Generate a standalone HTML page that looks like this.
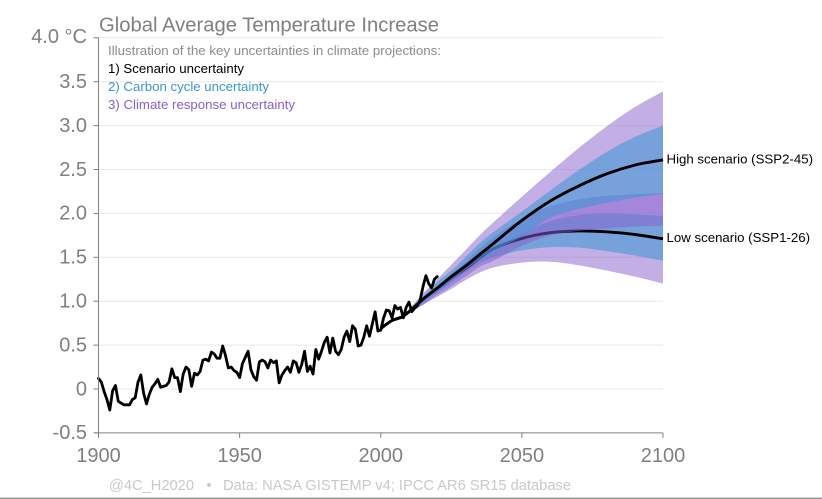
<!DOCTYPE html>
<html lang="en">
<head>
<meta charset="utf-8">
<title>Global Average Temperature Increase</title>
<style>
html,body{margin:0;padding:0;background:#fff;}
body{width:822px;height:499px;overflow:hidden;}
svg{display:block;font-family:"Liberation Sans",Arial,sans-serif;}
</style>
</head>
<body>
<svg id="chart" width="822" height="499" viewBox="0 0 822 499" xmlns="http://www.w3.org/2000/svg">
  <g id="grid"></g>
  <g id="marks"></g>
  <g id="axes"></g>
  <text x="99" y="31.5" font-size="20" fill="#808080" textLength="340" lengthAdjust="spacingAndGlyphs">Global Average Temperature Increase</text>
  <text x="108" y="55" font-size="13" fill="#8c8c8c" textLength="333" lengthAdjust="spacingAndGlyphs">Illustration of the key uncertainties in climate projections:</text>
  <text x="108" y="73" font-size="13" fill="#000000" textLength="136" lengthAdjust="spacingAndGlyphs">1) Scenario uncertainty</text>
  <text x="108" y="91" font-size="13" fill="#3b97d3" textLength="161" lengthAdjust="spacingAndGlyphs">2) Carbon cycle uncertainty</text>
  <text x="108" y="109" font-size="13" fill="#8b5fd0" textLength="187" lengthAdjust="spacingAndGlyphs">3) Climate response uncertainty</text>
  <text x="666.5" y="163.3" font-size="13" fill="#000000" textLength="146.5" lengthAdjust="spacingAndGlyphs">High scenario (SSP2-45)</text>
  <text x="666.5" y="241.8" font-size="13" fill="#000000" textLength="143.5" lengthAdjust="spacingAndGlyphs">Low scenario (SSP1-26)</text>
  <text x="109" y="490" font-size="14.7" fill="#c9c9c9" textLength="85" lengthAdjust="spacingAndGlyphs">@4C_H2020</text>
  <text x="209" y="490" font-size="14.7" fill="#c9c9c9" text-anchor="middle">•</text>
  <text x="223" y="490" font-size="14.7" fill="#c9c9c9" textLength="348" lengthAdjust="spacingAndGlyphs">Data: NASA GISTEMP v4; IPCC AR6 SR15 database</text>
  <line x1="0" x2="822" y1="498.3" y2="498.3" stroke="#8f8f8f" stroke-width="1.4"></line>
</svg>
<script>
const xTicks = [1900, 1950, 2000, 2050, 2100];
const yTicks = [-0.5, 0, 0.5, 1.0, 1.5, 2.0, 2.5, 3.0, 3.5, 4.0];
const yTickLabels = ["-0.5", "0", "0.5", "1.0", "1.5", "2.0", "2.5", "3.0", "3.5", "4.0 °C"];

const historyStartYear = 1900;
const historyValues = [
  0.12, 0.08, -0.03, -0.12, -0.24, -0.02, 0.04, -0.14, -0.16, -0.18,
  -0.18, -0.18, -0.12, -0.10, 0.08, 0.16, -0.05, -0.17, -0.06, 0.02,
  0.06, 0.11, 0.02, 0.03, 0.04, 0.08, 0.23, 0.13, 0.13, -0.03,
  0.17, 0.25, 0.22, 0.03, 0.18, 0.16, 0.20, 0.33, 0.34, 0.32,
  0.42, 0.40, 0.35, 0.35, 0.49, 0.38, 0.24, 0.25, 0.21, 0.19,
  0.13, 0.29, 0.36, 0.43, 0.22, 0.14, 0.10, 0.31, 0.33, 0.31,
  0.24, 0.33, 0.30, 0.32, 0.07, 0.16, 0.21, 0.25, 0.19, 0.32,
  0.30, 0.19, 0.28, 0.43, 0.20, 0.26, 0.17, 0.45, 0.34, 0.43,
  0.53, 0.59, 0.41, 0.58, 0.43, 0.39, 0.45, 0.59, 0.66, 0.54,
  0.72, 0.68, 0.49, 0.50, 0.59, 0.72, 0.60, 0.74, 0.88, 0.66,
  0.67, 0.81, 0.90, 0.89, 0.81, 0.95, 0.91, 0.93, 0.81, 0.93,
  0.99, 0.88, 0.92, 0.95, 1.02, 1.17, 1.29, 1.20, 1.15, 1.25, 1.28
];

const centralYears = [2000, 2004, 2008, 2015, 2020, 2025, 2030, 2035, 2040, 2050, 2060, 2070, 2080, 2090, 2100];
const highCentral = [0.69, 0.78, 0.83, 1.025, 1.15, 1.28, 1.40, 1.53, 1.66, 1.92, 2.14, 2.31, 2.45, 2.55, 2.61];
const lowCentral = [0.69, 0.78, 0.83, 1.02, 1.14, 1.26, 1.37, 1.49, 1.60, 1.715, 1.78, 1.80, 1.79, 1.76, 1.71];

const bandYears = [2008, 2015, 2020, 2025, 2030, 2035, 2040, 2050, 2060, 2070, 2080, 2090, 2100];
const highClimateUpper = [0.83, 1.09, 1.25, 1.415, 1.58, 1.75, 1.90, 2.19, 2.47, 2.74, 2.99, 3.21, 3.39];
const highClimateLower = [0.83, 0.96, 1.07, 1.17, 1.28, 1.39, 1.46, 1.63, 1.75, 1.80, 1.83, 1.85, 1.86];
const highCarbonUpper = [0.83, 1.06, 1.22, 1.35, 1.50, 1.66, 1.79, 2.02, 2.26, 2.49, 2.70, 2.87, 3.00];
const highCarbonLower = [0.83, 0.99, 1.11, 1.23, 1.36, 1.47, 1.57, 1.74, 1.95, 2.05, 2.12, 2.18, 2.22];
const lowClimateUpper = [0.83, 1.03, 1.17, 1.31, 1.45, 1.60, 1.73, 1.94, 2.08, 2.16, 2.20, 2.22, 2.23];
const lowClimateLower = [0.83, 0.96, 1.05, 1.14, 1.24, 1.325, 1.385, 1.44, 1.45, 1.41, 1.35, 1.28, 1.20];
const lowCarbonUpper = [0.83, 1.00, 1.13, 1.26, 1.38, 1.50, 1.60, 1.77, 1.91, 1.98, 2.00, 1.99, 1.97];
const lowCarbonLower = [0.83, 0.98, 1.10, 1.21, 1.33, 1.43, 1.50, 1.58, 1.615, 1.61, 1.57, 1.52, 1.46];

const SVGNS = "http://www.w3.org/2000/svg";
const plotLeft = 98.5, plotRight = 663, plotTop = 37.8, plotBottom = 432.9;
function xScale(year) { return plotLeft + (year - 1900) / 200 * (plotRight - plotLeft); }
function yScale(v) { return plotBottom - (v + 0.5) / 4.5 * (plotBottom - plotTop); }
function make(tag, parent, attrs) {
  const el = document.createElementNS(SVGNS, tag);
  for (const k in attrs) el.setAttribute(k, attrs[k]);
  parent.appendChild(el);
  return el;
}
function slopeAt(pts, i) {
  const a = pts[Math.max(i - 1, 0)], b = pts[Math.min(i + 1, pts.length - 1)];
  return (b[1] - a[1]) / (b[0] - a[0]);
}
function smoothSegments(pts) {
  let d = "";
  for (let i = 0; i < pts.length - 1; i++) {
    const p1 = pts[i], p2 = pts[i + 1];
    const dx = (p2[0] - p1[0]) / 3;
    const c1x = p1[0] + dx, c1y = p1[1] + slopeAt(pts, i) * dx;
    const c2x = p2[0] - dx, c2y = p2[1] - slopeAt(pts, i + 1) * dx;
    d += "C" + c1x.toFixed(2) + " " + c1y.toFixed(2) + " " + c2x.toFixed(2) + " " + c2y.toFixed(2) + " " + p2[0].toFixed(2) + " " + p2[1].toFixed(2);
  }
  return d;
}
function toPoints(years, values) { return years.map((y, i) => [xScale(y), yScale(values[i])]); }
function bandPath(years, upper, lower) {
  const up = toPoints(years, upper), lo = toPoints(years, lower).reverse();
  return "M" + up[0][0].toFixed(2) + " " + up[0][1].toFixed(2) + smoothSegments(up) +
    "L" + lo[0][0].toFixed(2) + " " + lo[0][1].toFixed(2) + smoothSegments(lo) + "Z";
}
function linePath(years, values) {
  const p = toPoints(years, values);
  return "M" + p[0][0].toFixed(2) + " " + p[0][1].toFixed(2) + smoothSegments(p);
}

const grid = document.getElementById("grid");
const marks = document.getElementById("marks");
const axes = document.getElementById("axes");

yTicks.forEach((v, i) => {
  if (v === -0.5) return;
  const g = make("line", grid, { x1: plotLeft, x2: plotRight, y1: yScale(v), y2: yScale(v), stroke: "#e9e9e9", "stroke-width": 1 });
  
  
});

const purple = "#875dcd", blue = "#3b97d3";
const lowClimateBand = make("path", marks, { d: bandPath(bandYears, lowClimateUpper, lowClimateLower), fill: purple, "fill-opacity": 0.5 });


const lowCarbonBand = make("path", marks, { d: bandPath(bandYears, lowCarbonUpper, lowCarbonLower), fill: blue, "fill-opacity": 0.56 });


const lowLine = make("path", marks, { d: linePath(centralYears, lowCentral), fill: "none", stroke: "#000", "stroke-width": 2.9, "stroke-linejoin": "round" });


const highClimateBand = make("path", marks, { d: bandPath(bandYears, highClimateUpper, highClimateLower), fill: purple, "fill-opacity": 0.5 });


const highCarbonBand = make("path", marks, { d: bandPath(bandYears, highCarbonUpper, highCarbonLower), fill: blue, "fill-opacity": 0.56 });


const highLine = make("path", marks, { d: linePath(centralYears, highCentral), fill: "none", stroke: "#000", "stroke-width": 2.9, "stroke-linejoin": "round" });



const historyPoints = historyValues.map((v, i) => xScale(historyStartYear + i).toFixed(2) + "," + yScale(v).toFixed(2)).join(" ");
const historyLine = make("polyline", marks, { points: historyPoints, fill: "none", stroke: "#000", "stroke-width": 2.8, "stroke-linejoin": "round", "stroke-linecap": "round" });



const yAxis = make("line", axes, { x1: plotLeft, x2: plotLeft, y1: plotTop, y2: plotBottom, stroke: "#808080", "stroke-width": 1 });


const xAxis = make("line", axes, { x1: plotLeft - 4, x2: plotRight, y1: plotBottom, y2: plotBottom, stroke: "#808080", "stroke-width": 1 });



yTicks.forEach((v, i) => {
  const t = make("line", axes, { x1: plotLeft - 5, x2: plotLeft, y1: yScale(v), y2: yScale(v), stroke: "#808080", "stroke-width": 1 });
  
  
  const lab = make("text", axes, { x: 87, y: yScale(v) + (v === 4.0 ? 5 : 6.3), "text-anchor": "end", "font-size": 20, fill: "#808080" });
  
  
  lab.textContent = yTickLabels[i];
});
xTicks.forEach((yr) => {
  const t = make("line", axes, { x1: xScale(yr), x2: xScale(yr), y1: plotBottom, y2: plotBottom + 5, stroke: "#808080", "stroke-width": 1 });
  
  
  const lab = make("text", axes, { x: xScale(yr), y: 462, "text-anchor": "middle", "font-size": 20, fill: "#808080" });
  
  
  lab.textContent = yr;
});
</script>
</body>
</html>
